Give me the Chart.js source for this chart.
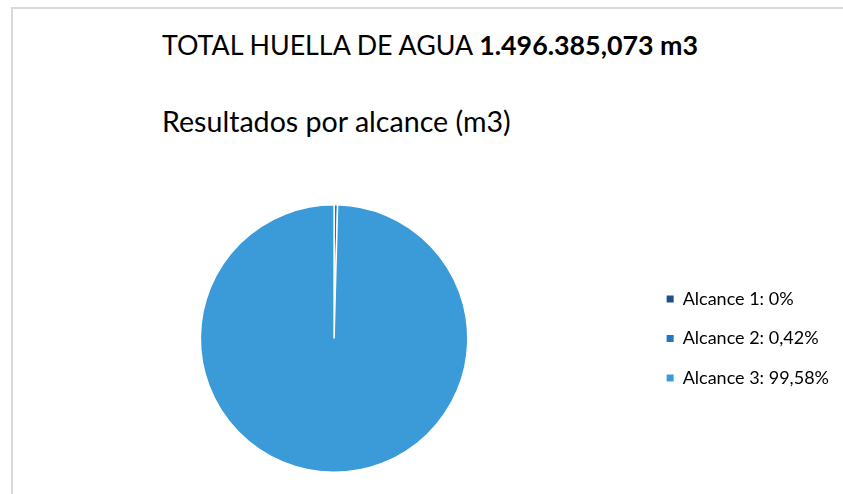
<!DOCTYPE html>
<html>
<head>
<meta charset="utf-8">
<script src="https://cdn.jsdelivr.net/npm/chart.js@4.4.0/dist/chart.umd.min.js"></script>
<style>
  html, body { margin: 0; padding: 0; background: #fff; }
  body { width: 843px; height: 494px; position: relative; overflow: hidden; font-family: Lato, sans-serif; }
  #frame { position: absolute; left: 11px; top: 7px; width: 840px; height: 500px;
           border-top: 2px solid #d9d9d9; border-left: 2px solid #d9d9d9; }
  #title { position: absolute; left: 162px; top: 29px; font-size: 26.8px; color: #000; white-space: nowrap; }
  #subtitle { position: absolute; left: 162px; top: 104px; font-size: 28.6px; color: #000; white-space: nowrap; }
  #wrap { position: absolute; left: 0; top: 0; width: 843px; height: 494px; }
</style>
</head>
<body>
<div id="frame"></div>
<div id="title">TOTAL HUELLA DE AGUA <b>1.496.385,073 m3</b></div>
<div id="subtitle">Resultados por alcance (m3)</div>
<div id="wrap"><canvas id="pie"></canvas></div>
<script>
// Scopes and their share of the total water footprint (%)
const labels = ["Alcance 1", "Alcance 2", "Alcance 3"];
const shares = [0, 0.42, 99.58];
const shareText = ["0%", "0,42%", "99,58%"];
const colors = ["#1f4e8c", "#1f77c0", "#3a9bd8"];

document.addEventListener("DOMContentLoaded", function () {
  const ctx = document.querySelector("#pie").getContext("2d");

  new Chart(ctx, {
    type: "pie",
    data: {
      labels: labels,
      datasets: [
        {
          data: shares,
          backgroundColor: colors,
          borderColor: "#ffffff",
          borderWidth: 1.5,
        },
      ],
    },
    options: {
      responsive: true,
      maintainAspectRatio: false,
      animation: false,
      layout: {
        padding: { top: 204, bottom: 21, left: 23, right: 4 },
      },
      plugins: {
        tooltip: { enabled: false },
        legend: {
          position: "right",
          labels: {
            boxWidth: 7,
            boxHeight: 7,
            padding: 21.5,
            color: "#000",
            font: { size: 18, family: "Lato" },
            generateLabels: function (chart) {
              return labels.map((l, i) => ({
                text: l + ": " + shareText[i],
                fillStyle: colors[i],
                strokeStyle: colors[i],
                lineWidth: 0,
                index: i,
              }));
            },
          },
        },
      },
    },
  });
});
</script>
</body>
</html>
